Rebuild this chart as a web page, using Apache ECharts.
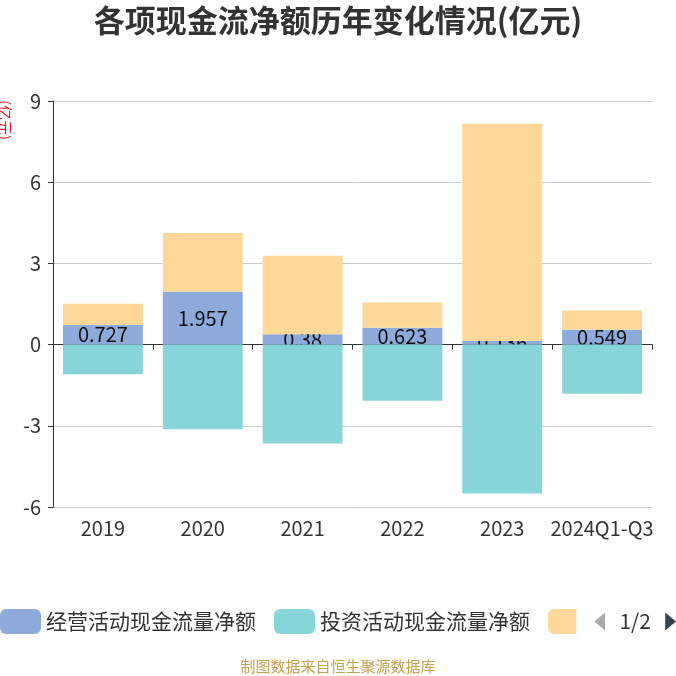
<!DOCTYPE html>
<html>
<head>
<meta charset="utf-8">
<script src="https://cdn.jsdelivr.net/npm/echarts@6/dist/echarts.min.js"></script>
<style>html,body{margin:0;padding:0;background:#fff}#c{width:676px;height:676px}</style>
</head>
<body>
<div id="c"></div>
<script>
var categories = ['2019', '2020', '2021', '2022', '2023', '2024Q1-Q3'];
var operating = [0.727, 1.957, 0.38, 0.623, 0.136, 0.549];
var investing = [-1.10, -3.13, -3.65, -2.07, -5.50, -1.82];
var financing = [0.78, 2.17, 2.90, 0.93, 8.02, 0.71];
var seriesNames = ['经营活动现金流量净额', '投资活动现金流量净额', '筹资活动现金流量净额'];
var yTicks = { min: -6, max: 9, interval: 3 };

var font = '"Noto Sans CJK SC", "Noto Sans", sans-serif';
var chart = echarts.init(document.getElementById('c'));
chart.setOption({
  animation: false,
  textStyle: { fontFamily: font },
  title: {
    text: '各项现金流净额历年变化情况(亿元)',
    left: 'center', top: 0,
    textStyle: { fontSize: 31, fontWeight: 'bold', color: '#333', fontFamily: font }
  },
  graphic: [
    { type: 'text', left: -3, top: 100, rotation: -Math.PI / 2,
      style: { text: '(亿元)', fill: '#e02020', font: '15px ' + font } },
    { type: 'text', left: 'center', top: 659,
      style: { text: '制图数据来自恒生聚源数据库', fill: '#c9a04e', font: '15px ' + font } }
  ],
  grid: { left: 53, right: 24, top: 101, bottom: 169 },
  legend: {
    type: 'scroll', left: 0, right: -16, top: 609, padding: 0,
    itemWidth: 41, itemHeight: 25, itemGap: 18,
    icon: 'roundRect',
    textStyle: { fontSize: 21, color: '#333' },
    pageIconSize: 18, pageIconColor: '#2f4554', pageIconInactiveColor: '#aaa',
    pageTextStyle: { fontSize: 21, color: '#333' },
    data: seriesNames
  },
  xAxis: {
    type: 'category', data: categories,
    axisLine: { lineStyle: { color: '#333' } },
    axisTick: { show: true, lineStyle: { color: '#333' } },
    axisLabel: { fontSize: 20, color: '#333', interval: 0, margin: 11 }
  },
  yAxis: {
    type: 'value', min: yTicks.min, max: yTicks.max, interval: yTicks.interval,
    axisLine: { show: true, lineStyle: { color: '#333' } },
    axisTick: { show: true, lineStyle: { color: '#333' } },
    axisLabel: { fontSize: 20, color: '#333', margin: 12 },
    splitLine: { lineStyle: { color: '#ccc' } }
  },
  series: [
    { name: seriesNames[0], type: 'bar', stack: 'total', data: operating, barWidth: '80%', z: 2,
      itemStyle: { color: '#8eaadb' },
      label: { show: true, position: 'inside', fontSize: 20, color: '#111' } },
    { name: seriesNames[1], type: 'bar', stack: 'total', data: investing, z: 3,
      itemStyle: { color: '#87d5d8' } },
    { name: seriesNames[2], type: 'bar', stack: 'total', data: financing, z: 3,
      itemStyle: { color: '#fed899' } }
  ]
});
</script>
</body>
</html>
